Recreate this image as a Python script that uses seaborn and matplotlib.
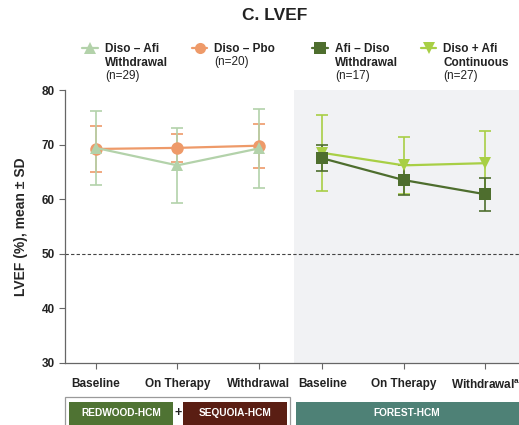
import matplotlib.pyplot as plt
from matplotlib.lines import Line2D
from matplotlib.patches import Rectangle
import numpy as np
import pandas as pd
import seaborn as sns

sns.set_style('ticks')
plt.rcParams['font.family'] = ['Liberation Sans', 'DejaVu Sans']

# Data
timepoints = ['Baseline', 'On Therapy', 'Withdrawal']
tick_labels = ['Baseline', 'On Therapy', 'Withdrawal',
               'Baseline', 'On Therapy', 'Withdrawal$^{\\mathregular{a}}$']

diso_pbo_mean = [69.2, 69.4, 69.8]
diso_pbo_sd = [4.2, 2.5, 4.0]
diso_afi_mean = [69.4, 66.2, 69.3]
diso_afi_sd = [6.8, 6.9, 7.3]
cont_mean = [68.5, 66.2, 66.6]
cont_sd = [7.0, 5.2, 5.9]
afi_diso_mean = [67.5, 63.5, 60.9]
afi_diso_sd = [2.4, 2.7, 3.0]

groups = ['Diso – Pbo', 'Diso – Afi Withdrawal', 'Diso + Afi Continuous', 'Afi – Diso Withdrawal']
study_of = {'Diso – Pbo': 0, 'Diso – Afi Withdrawal': 0,
            'Diso + Afi Continuous': 1, 'Afi – Diso Withdrawal': 1}
means = [diso_pbo_mean, diso_afi_mean, cont_mean, afi_diso_mean]
sds = [diso_pbo_sd, diso_afi_sd, cont_sd, afi_diso_sd]

colors = {'Diso – Pbo': '#EE9A69', 'Diso – Afi Withdrawal': '#B3D2AA',
          'Diso + Afi Continuous': '#A8CF45', 'Afi – Diso Withdrawal': '#4E6E2E'}
markers = {'Diso – Pbo': 'o', 'Diso – Afi Withdrawal': '^',
           'Diso + Afi Continuous': 'v', 'Afi – Diso Withdrawal': 's'}

group_offset = [0.0, 2.776]  # second study shifted right

rows = []
for g, m, s in zip(groups, means, sds):
    for i, t in enumerate(timepoints):
        rows.append({'group': g, 'time': t, 'x': i + group_offset[study_of[g]],
                     'mean': m[i], 'sd': s[i]})
df = pd.DataFrame(rows)

fig = plt.figure(figsize=(5.19, 4.25), dpi=100)
ax = fig.add_axes([0.1247, 0.1459, 0.8753, 0.6423])

# shaded FOREST-HCM region
ax.axvspan(2.43, 5.3, color='#F1F2F4', zorder=0, lw=0)
ax.axhline(50, color='#444444', ls=(0, (3, 2)), lw=0.8, zorder=1)

for g in groups:
    d = df[df['group'] == g]
    ax.errorbar(d['x'], d['mean'], yerr=d['sd'], fmt='none', ecolor=colors[g],
                elinewidth=1.2, capsize=4, capthick=1.2, zorder=1.5)

sns.lineplot(data=df, x='x', y='mean', hue='group', style='group',
             hue_order=groups, style_order=groups, palette=colors,
             markers=markers, dashes=False, markersize=9, markeredgewidth=0,
             linewidth=1.6, legend=False, ax=ax, zorder=2)

ax.set_xlim(-0.38, 5.187)
ax.set_ylim(30, 80)
ax.set_yticks(range(30, 81, 10))
ax.set_xticks(sorted(df['x'].unique()))
ax.set_xticklabels(tick_labels)
ax.set_xlabel('')
ax.set_ylabel('LVEF (%), mean ± SD', fontsize=10, fontweight='bold', labelpad=10)
for lab in ax.get_xticklabels() + ax.get_yticklabels():
    lab.set_fontweight('bold')
    lab.set_fontsize(8.5)
    lab.set_color('#222222')
ax.tick_params(axis='both', direction='out', length=4, width=0.8, color='#666666')
ax.tick_params(axis='x', pad=7)
ax.tick_params(axis='y', pad=3)
for sp in ['top', 'right']:
    ax.spines[sp].set_visible(False)
for sp in ['left', 'bottom']:
    ax.spines[sp].set_color('#666666')
    ax.spines[sp].set_linewidth(0.9)

fig.text(275 / 519, 1 - 16 / 425, 'C. LVEF', ha='center', va='center',
         fontsize=12.5, fontweight='bold', color='#222222')

# legend: handle + bold name, then sample size
legend_items = [
    ('Diso – Afi Withdrawal', 82, 105, ['Diso – Afi', 'Withdrawal'], '(n=29)'),
    ('Diso – Pbo', 192, 214, ['Diso – Pbo'], '(n=20)'),
    ('Afi – Diso Withdrawal', 312, 335, ['Afi – Diso', 'Withdrawal'], '(n=17)'),
    ('Diso + Afi Continuous', 421, 443, ['Diso + Afi', 'Continuous'], '(n=27)'),
]
line_y = [49, 62.5, 76]
for g, hx, tx, names, n in legend_items:
    h = Line2D([], [], color=colors[g], marker=markers[g], markersize=8,
               markeredgewidth=0, lw=1.6)
    hl = (tx - hx - 9) / 8.5 * 0.72
    fig.legend(handles=[h], labels=[''], loc='center left',
               bbox_to_anchor=(hx / 519, 1 - line_y[0] / 425), frameon=False,
               borderpad=0, borderaxespad=0, handlelength=hl, handletextpad=0)
    lines = names + [n]
    for k, txt in enumerate(lines):
        fig.text(tx / 519, 1 - line_y[k] / 425, txt, ha='left', va='center',
                 fontsize=8.5, color='#222222',
                 fontweight='bold' if k < len(names) else 'normal')

# study bands at the bottom
def fig_box(x0, x1, y0, y1, **kw):
    fig.patches.append(Rectangle((x0 / 519, 1 - y1 / 425), (x1 - x0) / 519,
                                 (y1 - y0) / 425, transform=fig.transFigure, **kw))

fig_box(65, 290, 397, 430, facecolor='none', edgecolor='#9A9A9A', lw=0.9)
fig_box(69, 173, 402, 430, facecolor='#4F7333', edgecolor='none')
fig_box(183, 287, 402, 430, facecolor='#5A1E13', edgecolor='none')
fig_box(296, 520, 402, 430, facecolor='#4E8176', edgecolor='none')
band_y = 1 - 413 / 425
fig.text(121 / 519, band_y, 'REDWOOD-HCM', ha='center', va='center',
         fontsize=7.3, fontweight='bold', color='white')
fig.text(178 / 519, band_y, '+', ha='center', va='center',
         fontsize=9, fontweight='bold', color='#222222')
fig.text(235 / 519, band_y, 'SEQUOIA-HCM', ha='center', va='center',
         fontsize=7.3, fontweight='bold', color='white')
fig.text(407 / 519, band_y, 'FOREST-HCM', ha='center', va='center',
         fontsize=7.3, fontweight='bold', color='white')

fig.savefig('out.png', dpi=100)
